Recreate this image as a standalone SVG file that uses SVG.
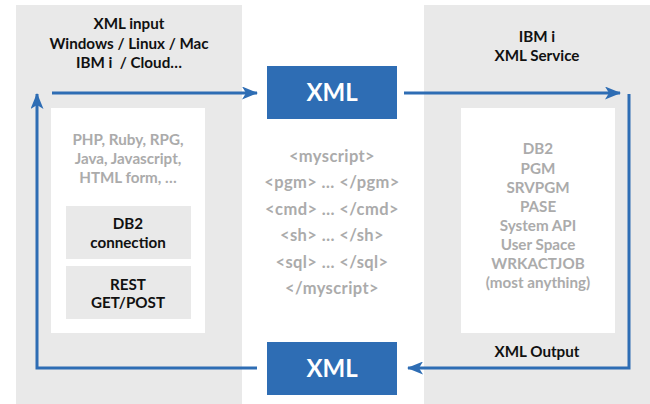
<svg xmlns="http://www.w3.org/2000/svg" width="650" height="404" viewBox="0 0 650 404">
<style>
.panel{fill:#e9e9e9}
.inner{fill:#ffffff}
.sub{fill:#e9e9e9}
.xml{fill:#2e6db4}
.t{font-family:Lato,"Open Sans",sans-serif;font-weight:700;font-size:15.2px;text-anchor:middle;fill:#111}
.g{font-family:Lato,"Open Sans",sans-serif;font-weight:700;font-size:15.2px;text-anchor:middle;fill:#ababab}
.m{font-family:Lato,"Open Sans",sans-serif;font-weight:700;font-size:16.5px;letter-spacing:0.4px;text-anchor:middle;fill:#ababab}
.x{font-family:Lato,"Open Sans",sans-serif;font-weight:700;font-size:24px;text-anchor:middle;fill:#ffffff}
.c{fill:none;stroke:#2e6db4;stroke-width:3}
</style>
<defs>
<marker id="ah" viewBox="0 0 16 13" refX="15" refY="6.5" markerWidth="16" markerHeight="13" markerUnits="userSpaceOnUse" orient="auto">
<path d="M0,0 L16,6.5 L0,13 L4,6.5 z" fill="#2e6db4"/>
</marker>
</defs>
<g id="client">
<rect class="panel" x="16" y="5" width="226" height="399"/>
<text class="t" x="129" y="29">XML input</text>
<text class="t" x="129" y="49">Windows / Linux / Mac</text>
<text class="t" x="129" y="68" style="white-space:pre">IBM i  / Cloud…</text>
<rect class="inner" x="51" y="108" width="154" height="225"/>
<text class="g" x="128" y="145">PHP, Ruby, RPG,</text>
<text class="g" x="128" y="164">Java, Javascript,</text>
<text class="g" x="128" y="183">HTML form, …</text>
</g>
<g id="db2conn">
<rect class="sub" x="66" y="206" width="125" height="53"/>
<text class="t" x="128" y="229">DB2</text>
<text class="t" x="128" y="248">connection</text>
</g>
<g id="rest">
<rect class="sub" x="66" y="266" width="125" height="53"/>
<text class="t" x="128" y="290">REST</text>
<text class="t" x="128" y="308">GET/POST</text>
</g>
<g id="service">
<rect class="panel" x="424" y="5" width="226" height="399"/>
<text class="t" x="537" y="42">IBM i</text>
<text class="t" x="537" y="61">XML Service</text>
<rect class="inner" x="461" y="108" width="154" height="225"/>
<text class="g" x="538" y="154">DB2</text>
<text class="g" x="538" y="174">PGM</text>
<text class="g" x="538" y="193">SRVPGM</text>
<text class="g" x="538" y="212">PASE</text>
<text class="g" x="538" y="231">System API</text>
<text class="g" x="538" y="250">User Space</text>
<text class="g" x="538" y="269">WRKACTJOB</text>
<text class="g" x="538" y="288">(most anything)</text>
<text class="t" x="537" y="357">XML Output</text>
</g>
<g id="script">
<text class="m" x="332" y="162">&lt;myscript&gt;</text>
<text class="m" x="332" y="188">&lt;pgm&gt; … &lt;/pgm&gt;</text>
<text class="m" x="332" y="215">&lt;cmd&gt; … &lt;/cmd&gt;</text>
<text class="m" x="332" y="241">&lt;sh&gt; … &lt;/sh&gt;</text>
<text class="m" x="332" y="268">&lt;sql&gt; … &lt;/sql&gt;</text>
<text class="m" x="332" y="294">&lt;/myscript&gt;</text>
</g>
<g id="xml-top">
<rect class="xml" x="267" y="66" width="130" height="53"/>
<text class="x" x="332" y="101">XML</text>
</g>
<g id="xml-bottom">
<rect class="xml" x="267" y="342" width="130" height="53"/>
<text class="x" x="332" y="377">XML</text>
</g>
<g id="connectors">
<path class="c" d="M52,93 H257" marker-end="url(#ah)"/>
<path class="c" d="M404,93 H620" marker-end="url(#ah)"/>
<path class="c" d="M629,94 V368 H408" marker-end="url(#ah)"/>
<path class="c" d="M257,368 H37 V94" marker-end="url(#ah)"/>
</g>
</svg>
